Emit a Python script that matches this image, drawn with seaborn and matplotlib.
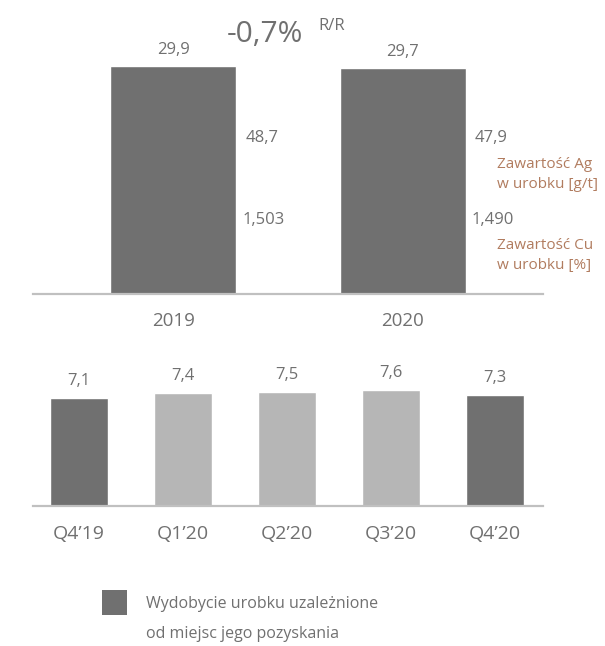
import matplotlib
matplotlib.use("Agg")
import matplotlib.pyplot as plt
import seaborn as sns
import pandas as pd
from matplotlib.patches import Rectangle

# ---- data ----
years = ["2019", "2020"]
year_values = [29.9, 29.7]
ag_values = ["48,7", "47,9"]
cu_values = ["1,503", "1,490"]
quarters = ["Q4\u201919", "Q1\u201920", "Q2\u201920", "Q3\u201920", "Q4\u201920"]
quarter_values = [7.1, 7.4, 7.5, 7.6, 7.3]
change_text = "-0,7%"
change_suffix = "R/R"
ag_label = ["Zawarto\u015b\u0107 Ag", "w urobku [g/t]"]
cu_label = ["Zawarto\u015b\u0107 Cu", "w urobku [%]"]
legend_label = ["Wydobycie urobku uzale\u017cnione", "od miejsc jego pozyskania"]

DARK = "#707070"
LIGHT = "#b6b6b6"
TEXT = "#707070"
ORANGE = "#b17c5f"
AXIS = "#c0c0c0"

sns.set_theme(style="white")
plt.rcParams["font.family"] = ["Open Sans", "DejaVu Sans"]

W, H = 605, 646
fig = plt.figure(figsize=(W / 100, H / 100), dpi=100)


def fx(px):
    return px / W


def fy(py):
    return 1 - py / H


def fmt(v):
    return f"{v:.1f}".replace(".", ",")


def style_axes(ax, pad):
    for s in ["top", "left", "right"]:
        ax.spines[s].set_visible(False)
    ax.spines["bottom"].set_color(AXIS)
    ax.spines["bottom"].set_linewidth(1.6)
    ax.set_yticks([])
    ax.set_xlabel("")
    ax.set_ylabel("")
    ax.tick_params(axis="x", length=0, pad=pad, labelcolor=TEXT)


# ---- top panel ----
ax1 = fig.add_axes([fx(33), fy(294), fx(510), 294 / H])
df_y = pd.DataFrame({"year": years, "value": year_values})
sns.barplot(data=df_y, x="year", y="value", hue="year",
            palette=[DARK, DARK], width=0.549, legend=False, ax=ax1,
            saturation=1)
ax1.set_xlim(-0.61, 1.61)
ax1.set_ylim(0, 38.56)
style_axes(ax1, 13)
for lab in ax1.get_xticklabels():
    lab.set_fontsize(13.5)
for c in ax1.containers:
    ax1.bar_label(c, labels=[fmt(b.get_height()) for b in c],
                  padding=5.5, fontsize=12, color=TEXT)

# ---- bottom panel ----
ax2 = fig.add_axes([fx(33), fy(506), fx(510), 160 / H])
df_q = pd.DataFrame({"quarter": quarters, "value": quarter_values})
sns.barplot(data=df_q, x="quarter", y="value", hue="quarter",
            palette=[DARK, LIGHT, LIGHT, LIGHT, DARK], width=0.558,
            legend=False, ax=ax2, saturation=1)
ax2.set_xlim(-0.44, 4.46)
ax2.set_ylim(0, 10.5)
style_axes(ax2, 14)
for lab in ax2.get_xticklabels():
    lab.set_fontsize(14)
for c in ax2.containers:
    ax2.bar_label(c, labels=[fmt(b.get_height()) for b in c],
                  padding=6.5, fontsize=12, color=TEXT)

# ---- annotations ----
fig.text(fx(227), fy(41.7), change_text, fontsize=21.5, color=TEXT,
         va="baseline", ha="left")
fig.text(fx(318), fy(30), change_suffix, fontsize=12, color=TEXT,
         va="baseline", ha="left")

for x, t in [(246, ag_values[0]), (475, ag_values[1])]:
    fig.text(fx(x), fy(141.7), t, fontsize=12, color=TEXT, va="baseline")
for x, t in [(243, cu_values[0]), (472, cu_values[1])]:
    fig.text(fx(x), fy(224), t, fontsize=12, color=TEXT, va="baseline")

for i, t in enumerate(ag_label):
    fig.text(fx(497), fy(168.3 + 20 * i), t, fontsize=11, color=ORANGE,
             va="baseline")
for i, t in enumerate(cu_label):
    fig.text(fx(497), fy(249 + 20 * i), t, fontsize=11, color=ORANGE,
             va="baseline")

# ---- legend ----
fig.add_artist(Rectangle((fx(102), fy(615)), fx(25), 25 / H,
                         transform=fig.transFigure, facecolor=DARK,
                         edgecolor="none"))
fig.text(fx(146), fy(608.3), legend_label[0], fontsize=11.5, color=TEXT,
         va="baseline")
fig.text(fx(146), fy(638.3), legend_label[1], fontsize=11.5, color=TEXT,
         va="baseline")

fig.savefig("out.png", dpi=100, facecolor="white")
